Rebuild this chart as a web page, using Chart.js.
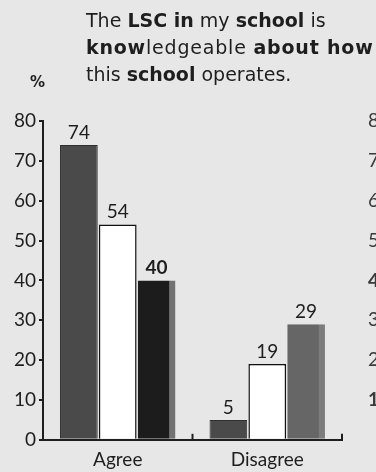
<!DOCTYPE html>
<html>
<head>
<meta charset="utf-8">
<script src="https://cdn.jsdelivr.net/npm/chart.js@4.4.1/dist/chart.umd.min.js"></script>
<style>
  html, body { margin: 0; padding: 0; background: #e7e7e7; overflow: hidden; }
  #wrap { position: relative; width: 376px; height: 472px; }
  #title {
    position: absolute; left: 86px; top: 7px;
    font: 19px "DejaVu Sans"; line-height: 27px; color: #1e1e1e; white-space: nowrap;
  }
  #title .wide { letter-spacing: 0.8px; }
  #pct { position: absolute; left: 30px; top: 73px; font: bold 15px "DejaVu Sans"; color: #1e1e1e; }
  canvas { position: absolute; left: 0; top: 0; }
</style>
</head>
<body>
<div id="wrap">
  <canvas id="myChart" width="376" height="472"></canvas>
  <div id="title">The <b>LSC in</b> my <b>school</b> is<br><span class="wide"><b>know</b>ledgeable <b>about how</b></span><br>this <b>school</b> operates.</div>
  <div id="pct">%</div>
</div>
<script>
const categories = ['Agree', 'Disagree'];
const firstGroup = [74, 5];
const secondGroup = [54, 19];
const thirdGroup = [40, 29];
const yTicks = [0, 10, 20, 30, 40, 50, 60, 70, 80];
const boldValues = [[false, false], [false, false], [true, false]];

const fontFamily = 'Lato';
const ink = '#1e1e1e';

// value printed above each bar
const valueLabels = {
  id: 'valueLabels',
  afterDatasetsDraw(chart) {
    const ctx = chart.ctx;
    ctx.save();
    ctx.fillStyle = ink;
    ctx.textAlign = 'center';
    ctx.textBaseline = 'bottom';
    chart.data.datasets.forEach((ds, i) => {
      chart.getDatasetMeta(i).data.forEach((bar, j) => {
        ctx.font = (boldValues[i][j] ? 'bold ' : '') + '19px ' + fontFamily;
        ctx.fillText(ds.data[j], bar.x, bar.y - 3);
      });
    });
    ctx.restore();
  }
};

// short upward ticks on the category axis
const innerTicks = {
  id: 'innerTicks',
  afterDraw(chart) {
    const x = chart.scales.x;
    const ctx = chart.ctx;
    const mid = (x.getPixelForValue(0) + x.getPixelForValue(1)) / 2;
    ctx.save();
    ctx.strokeStyle = ink;
    ctx.lineWidth = 2;
    [mid, x.right].forEach(px => {
      ctx.beginPath();
      ctx.moveTo(px, x.top);
      ctx.lineTo(px, x.top - 6);
      ctx.stroke();
    });
    ctx.restore();
  }
};

function rightTickFont(c) {
  const strong = c.tick && (c.tick.value === 40 || c.tick.value === 10);
  return { family: fontFamily, size: 19, weight: strong ? 'bold' : 'normal' };
}

const ctx = document.getElementById('myChart');
const chart = new Chart(ctx, {
  type: 'bar',
  data: {
    labels: categories,
    datasets: [
      { data: firstGroup, backgroundColor: '#4a4a4a', borderColor: '#2e2e2e', borderWidth: 1 },
      { data: secondGroup, backgroundColor: '#ffffff', borderColor: '#111111', borderWidth: 1.5 },
      {
        data: thirdGroup,
        backgroundColor: ['#1c1c1c', '#666666'],
        borderColor: ['#727272', '#7c7c7c'],
        borderWidth: { top: 0, left: 0, bottom: 0, right: 6 }
      }
    ]
  },
  options: {
    responsive: false,
    animation: false,
    categoryPercentage: 0.78,
    barPercentage: 0.97,
    layout: { padding: { top: 121, left: 0, right: 0, bottom: 0 } },
    plugins: { legend: { display: false }, tooltip: { enabled: false } },
    scales: {
      x: {
        grid: { display: false },
        border: { color: ink, width: 2 },
        ticks: { color: ink, font: { family: fontFamily, size: 19 }, padding: 1 },
        afterFit(scale) { scale.height = 32.2; }
      },
      y: {
        min: 0, max: 80,
        afterBuildTicks(scale) { scale.ticks = yTicks.map(v => ({ value: v })); },
        ticks: { color: ink, font: { family: fontFamily, size: 19 }, padding: 3 },
        grid: { drawOnChartArea: false, tickLength: 4, color: ink, lineWidth: 2 },
        border: { color: ink, width: 2 },
        afterFit(scale) { scale.width = 43; }
      },
      // next panel's axis, mostly past the right edge
      y2: {
        type: 'linear', position: 'right',
        min: 0, max: 80,
        afterBuildTicks(scale) { scale.ticks = yTicks.filter(v => v > 0).map(v => ({ value: v })); },
        ticks: { color: '#3a3a3a', padding: 18, font: rightTickFont },
        grid: { display: false },
        border: { display: false },
        afterFit(scale) { scale.width = 34; }
      }
    }
  },
  plugins: [valueLabels, innerTicks]
});
</script>
</body>
</html>
